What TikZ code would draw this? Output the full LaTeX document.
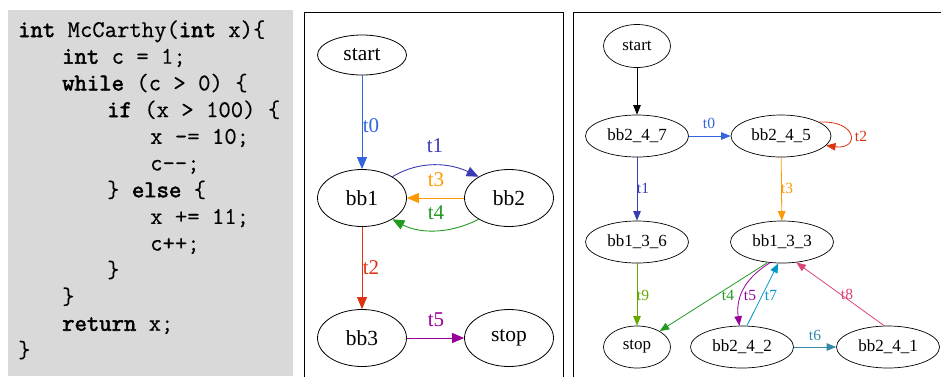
\documentclass[tikz,border=0pt]{standalone}
\usepackage{fontspec}
\newfontfamily\gvfont{Liberation Serif}
\newfontfamily\codereg{Latin Modern Mono}[FakeBold=0.35]
\newfontfamily\codekwfont{Latin Modern Mono}[FakeBold=2.4]
\usetikzlibrary{arrows.meta,shapes.geometric}
\definecolor{codebg}{HTML}{D9D9D9}
\definecolor{cA}{HTML}{3366DD}
\definecolor{cB}{HTML}{3B3BB3}
\definecolor{cC}{HTML}{DD3311}
\definecolor{cD}{HTML}{FF9900}
\definecolor{cE}{HTML}{229922}
\definecolor{cF}{HTML}{990099}
\definecolor{cG}{HTML}{66AA00}
\definecolor{cH}{HTML}{0099C6}
\definecolor{cI}{HTML}{DD4477}
\definecolor{cJ}{HTML}{3388AA}
\newcommand\kw[1]{{\codekwfont #1}}
\begin{document}
\begin{tikzpicture}[x=1pt,y=-1pt,
  codeline/.style={anchor=base west,inner sep=0pt,font=\fontsize{24}{24}\selectfont\codereg},
  bignode/.style={draw,ellipse,line width=0.8pt,minimum width=89pt,minimum height=57pt,inner sep=0pt,font=\gvfont\fontsize{21.5}{21.5}\selectfont},
  smallnode/.style={draw,ellipse,line width=0.7pt,minimum width=103pt,minimum height=42pt,inner sep=0pt,font=\gvfont\fontsize{17}{17}\selectfont},
  bigedge/.style={line width=0.9pt,-{Triangle[length=12pt,width=10pt]}},
  smalledge/.style={line width=0.8pt,-{Triangle[length=9.5pt,width=7.5pt]}},
  biglab/.style={inner sep=0pt,font=\gvfont\fontsize{21}{21}\selectfont},
  smalllab/.style={inner sep=0pt,font=\gvfont\fontsize{15.5}{15.5}\selectfont},
  panel/.style={line width=0.8pt}]
\useasboundingbox (0,0) rectangle (941,376);
% ---------- code panel ----------
\fill[codebg] (8,10) rectangle (293,376);
\node[codeline] (l1) at (18,37) {\kw{int} McCarthy(\kw{int} x)\{};
\node[codeline] (l2) at (62,63.7) {\kw{int} c = 1;};
\node[codeline] (l3) at (62,90.4) {\kw{while} (c > 0) \{};
\node[codeline] (l4) at (107,117.1) {\kw{if} (x > 100) \{};
\node[codeline] (l5) at (150,143.8) {x -= 10;};
\node[codeline] (l6) at (150,170.5) {c--;};
\node[codeline] (l7) at (107,197.2) {\} \kw{else} \{};
\node[codeline] (l8) at (150,223.9) {x += 11;};
\node[codeline] (l9) at (150,250.6) {c++;};
\node[codeline] (l10) at (107,277.3) {\}};
\node[codeline] (l11) at (62,304) {\}};
\node[codeline] (l12) at (62,330.7) {\kw{return} x;};
\node[codeline] (l13) at (18,357.4) {\}};
% ---------- middle panel ----------
\draw[panel] (304,380) -- (304,12) -- (563,12) -- (563,380);
\node[bignode,minimum height=40pt] (mstart) at (362,55) {start};
\node[bignode] (mbb1) at (362,198) {bb1};
\node[bignode] (mbb2) at (509,198) {bb2};
\node[bignode] (mbb3) at (362,338) {bb3};
\node[bignode] (mstop) at (509,338) {stop};
\draw[bigedge,cA] (mstart) -- (mbb1);
\node[biglab,text=cA] (mt0) at (371,126) {t0};
\draw[bigedge,cB] (mbb1.35) .. controls (420,160) and (450,163) .. (mbb2.145);
\node[biglab,text=cB] (mt1) at (435,146) {t1};
\draw[bigedge,cD] (mbb2) -- (mbb1);
\node[biglab,text=cD] (mt3) at (436,180) {t3};
\draw[bigedge,cE] (mbb2.215) .. controls (450,234) and (420,234) .. (mbb1.325);
\node[biglab,text=cE] (mt4) at (436,213) {t4};
\draw[bigedge,cC] (mbb1) -- (mbb3);
\node[biglab,text=cC] (mt2) at (371,268) {t2};
\draw[bigedge,cF] (mbb3) -- (mstop);
\node[biglab,text=cF] (mt5) at (436,320) {t5};
% ---------- right panel ----------
\draw[panel] (573,380) -- (573,12) -- (945,12);
\node[smallnode,minimum width=67pt,minimum height=43pt] (rstart) at (637,46) {start};
\node[smallnode] (r247) at (637,136) {bb2\_4\_7};
\node[smallnode,minimum width=100pt] (r245) at (781,136) {bb2\_4\_5};
\node[smallnode] (r136) at (637,242) {bb1\_3\_6};
\node[smallnode] (r133) at (782,242) {bb1\_3\_3};
\node[smallnode,minimum width=67pt] (rstop) at (637,347) {stop};
\node[smallnode] (r242) at (742,347) {bb2\_4\_2};
\node[smallnode] (r241) at (888,347) {bb2\_4\_1};
\draw[smalledge,black] (rstart) -- (r247);
\draw[smalledge,cA] (r247) -- (r245);
\node[smalllab,text=cA] (rt0) at (709,123) {t0};
\draw[smalledge,cC] (r245.20) .. controls (858,120) and (860,150) .. (r245.-12);
\node[smalllab,text=cC] (rt2) at (861,136) {t2};
\draw[smalledge,cB] (r247) -- (r136);
\node[smalllab,text=cB] (rt1) at (643,188) {t1};
\draw[smalledge,cD] (r245) -- (r133);
\node[smalllab,text=cD] (rt3) at (787,188) {t3};
\draw[smalledge,cG] (r136) -- (rstop);
\node[smalllab,text=cG] (rt9) at (643,295) {t9};
\draw[smalledge,cE] (r133.235) -- (rstop.35);
\node[smalllab,text=cE] (rt4) at (728,295) {t4};
\draw[smalledge,cF] (r133.240) .. controls (742,280) and (736,300) .. (r242.97);
\node[smalllab,text=cF] (rt5) at (750,295) {t5};
\draw[smalledge,cH] (r242.77) -- (r133.260);
\node[smalllab,text=cH] (rt7) at (771,295) {t7};
\draw[smalledge,cI] (r241.100) -- (r133.305);
\node[smalllab,text=cI] (rt8) at (847,294) {t8};
\draw[smalledge,cJ] (r242) -- (r241);
\node[smalllab,text=cJ] (rt6) at (815,335) {t6};
\end{tikzpicture}
\end{document}
